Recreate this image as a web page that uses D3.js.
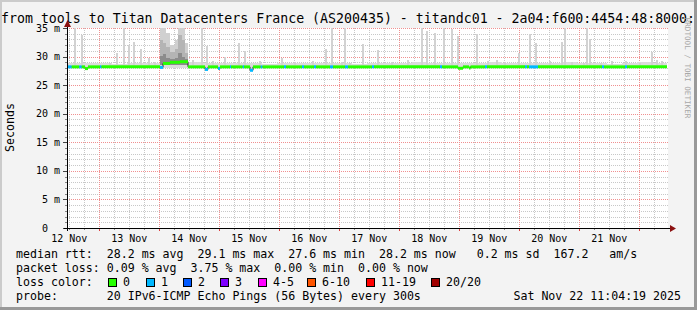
<!DOCTYPE html>
<html><head><meta charset="utf-8">
<script src="https://cdn.jsdelivr.net/npm/d3@7"></script>
<style>
html,body{margin:0;padding:0;background:#f3f3f3}
svg{display:block}
text{font-family:"DejaVu Sans Mono",monospace;white-space:pre}
</style>
</head><body>
<svg id="c" width="697" height="310"></svg>
<script>
// ---------------- data ----------------
const titleText = "from tools to Titan Datacenters France (AS200435) - titandc01 - 2a04:f600:4454:48:8000:";
const graphStart = new Date(2025, 10, 12, 11, 4, 19);
const graphEnd = new Date(2025, 10, 22, 11, 4, 19);
const yTicks = [0, 5, 10, 15, 20, 25, 30, 35];
const yTickLabels = ["0  ", "5 m", "10 m", "15 m", "20 m", "25 m", "30 m", "35 m"];
const dayLabels = ["12 Nov", "13 Nov", "14 Nov", "15 Nov", "16 Nov", "17 Nov", "18 Nov", "19 Nov", "20 Nov", "21 Nov"];

// median rtt (ms) step changes: [hours since start, rtt, lost pings]
const medianHours = [0, 1.9, 4.9, 5.9, 7.2, 8.4, 13.2, 13.8, 37.2, 38.4, 41.2, 45.2, 48.4, 55.2, 56.4, 60.4, 61.2, 65.2, 65.6, 70.3, 70.8, 73.2, 74.4, 77.5, 78.2, 86.8, 87.6, 94, 94.8, 98.8, 99.6, 105.2, 106.4, 111.2, 112.4, 122, 122.8, 149.2, 150, 156.4, 158.4, 160.8, 161.4, 167.2, 168, 183.2, 184, 184.8, 188.4, 214, 214.8, 223.2, 224];
const medianRtt =   [28.2, 28.2, 28.2, 28.2, 27.9, 28.2, 28.2, 28.2, 28.1, 28.8, 29.0, 29.1, 28.2, 27.75, 28.2, 27.9, 28.2, 28.2, 28.2, 28.2, 28.2, 27.6, 28.2, 28.2, 28.2, 28.2, 28.2, 28.2, 28.2, 28.2, 28.2, 28.2, 28.2, 28.2, 28.2, 28.2, 28.2, 28.2, 28.2, 27.95, 28.2, 28.0, 28.2, 28.2, 28.2, 28.2, 28.2, 28.2, 28.2, 28.2, 28.2, 28.2, 28.2];
const medianLoss =  [1, 0, 1, 0, 0, 0, 1, 0, 1, 0, 0, 0, 0, 1, 0, 1, 0, 1, 0, 1, 0, 1, 0, 1, 0, 1, 0, 1, 0, 1, 0, 1, 0, 1, 0, 1, 0, 1, 0, 0, 0, 0, 0, 1, 0, 1, 0, 1, 0, 1, 0, 1, 0];

// background smoke top (ms), every 6 hours
const baseSmokeTop = [28.9, 28.8, 28.9, 28.7, 28.8, 28.9, 28.8, 28.9, 29.0, 28.8, 28.9, 28.8, 28.9, 28.7, 28.8, 28.9, 28.8, 28.9, 28.8, 28.7, 28.9, 28.8, 28.9, 29.0, 28.8, 28.9, 28.8, 28.8, 29.0, 28.9, 28.9, 28.8, 28.9, 29.0, 28.8, 28.9, 28.7, 28.8, 29.0, 28.9];

// individual smoke spikes: hours since start, max rtt (ms)
const spikeHours = [3.2, 6, 17.2, 20, 22.8, 24.8, 26.8, 29.6, 32.8, 35.2, 50.4, 54, 56, 58.4, 63.2, 68.8, 71.2, 77.2, 86, 91.2, 98.4, 103.6, 106, 110, 111.2, 113.2, 118.4, 124.4, 130, 136.4, 142, 144, 147.2, 150.8, 154, 156.4, 164, 168.4, 172, 175.2, 180.8, 185.2, 187.6, 193.2, 198, 199.2, 202, 206.8, 208, 209.2, 213.6, 218, 223.6, 229.2, 234, 236, 238];
const spikeTop =   [35, 33.8, 28.9, 30.6, 35, 32, 32.6, 31.3, 29.7, 29.0, 29.4, 35, 31.9, 29.2, 30.0, 32.3, 30.9, 29.2, 29.8, 29.0, 29.3, 31.3, 35, 29.1, 35, 28.9, 32.2, 31.2, 29.0, 29.4, 35, 34.5, 34.2, 35, 34.8, 33.6, 34, 29.2, 29.4, 29.0, 30.7, 34, 32.3, 29.3, 32.6, 35, 29.1, 28.9, 35, 33, 28.9, 29.2, 29.2, 28.9, 30.8, 29.4, 29.2];

// dense smoke period (13-14 Nov): [start hour, end hour], dark / mid / light tops (ms)
const denseStart = [37.2, 38.4, 39.6, 41.2, 43.2, 44.4, 46.0, 47.2];
const denseEnd =   [38.4, 39.6, 41.2, 43.2, 44.4, 46.0, 47.2, 48.4];
const denseDark =  [30.1, 30.4, 29.8, 29.6, 29.8, 30.7, 30.0, 29.6];
const denseMid =   [32.9, 32.3, 31.7, 30.8, 31.4, 33.8, 32.9, 30.7];
const denseLight = [35, 35, 34.1, 32.0, 32.9, 35, 35, 32.3];

const lossLabels = ["0", "1", "2", "3", "4-5", "6-10", "11-19", "20/20"];
const lossColors = ["#26ff00", "#00b8ff", "#0059ff", "#7e00ff", "#ff00ff", "#ff5500", "#ff0000", "#a10000"];
const rttStats = ["28.2", "29.1", "27.6", "28.2", "0.2", "167.2"];
const lossStats = ["0.09", "3.75", "0.00", "0.00"];
const probeText = "20 IPv6-ICMP Echo Pings (56 Bytes) every 300s";
const stampText = "Sat Nov 22 11:04:19 2025";

// ---------------- drawing ----------------
const W = 697, H = 310;
const L = 67, R = 667, T = 28, B = 228;
const svg = d3.select("#c");
const hToDate = h => new Date(graphStart.getTime() + h * 3600e3);
const x = d3.scaleTime().domain([graphStart, graphEnd]).range([L, R]);
const y = d3.scaleLinear().domain([0, 35]).range([B, T]);
const xh = h => x(hToDate(h));

// frame
svg.append("rect").attr("width", W).attr("height", H).attr("fill", "#f3f3f3");
svg.append("rect").attr("x", 0).attr("y", 0).attr("width", W).attr("height", 2).attr("fill", "#cbcbcb");
svg.append("rect").attr("x", 0).attr("y", 0).attr("width", 2).attr("height", H).attr("fill", "#cbcbcb");
svg.append("rect").attr("x", 0).attr("y", H - 3).attr("width", W).attr("height", 3).attr("fill", "#999");
svg.append("rect").attr("x", W - 3).attr("y", 0).attr("width", 3).attr("height", H).attr("fill", "#999");

// canvas
svg.append("rect").attr("x", L).attr("y", T).attr("width", R - L + 1).attr("height", B - T).attr("fill", "#fff");

// grid
const g = svg.append("g").attr("shape-rendering", "crispEdges");
const minorX = d3.timeHour.every(6).range(graphStart, graphEnd).filter(d => d.getHours() !== 0);
const majorX = d3.timeDay.range(graphStart, graphEnd);
g.selectAll(".mx").data(minorX).join("line")
  .attr("x1", d => Math.round(x(d)) + 0.5).attr("x2", d => Math.round(x(d)) + 0.5)
  .attr("y1", T).attr("y2", B).attr("stroke", "#c8c8c8").attr("stroke-dasharray", "1,1");
const minorY = d3.range(1, 36).filter(v => v % 5 !== 0);
g.selectAll(".my").data(minorY).join("line")
  .attr("x1", L).attr("x2", R + 1).attr("y1", d => Math.round(y(d)) + 0.5).attr("y2", d => Math.round(y(d)) + 0.5)
  .attr("stroke", "#c8c8c8").attr("stroke-dasharray", "1,1");
g.selectAll(".Mx").data(majorX).join("line")
  .attr("x1", d => Math.round(x(d)) + 0.5).attr("x2", d => Math.round(x(d)) + 0.5)
  .attr("y1", T).attr("y2", B).attr("stroke", "#f09090").attr("stroke-dasharray", "1,1");
g.selectAll(".My").data(yTicks.filter(v => v > 0)).join("line")
  .attr("x1", L).attr("x2", R + 1).attr("y1", d => Math.round(y(d)) + 0.5).attr("y2", d => Math.round(y(d)) + 0.5)
  .attr("stroke", "#f09090").attr("stroke-dasharray", "1,1");

// base smoke
const sm = svg.append("g").attr("shape-rendering", "crispEdges");
sm.selectAll(".bs").data(baseSmokeTop).join("rect")
  .attr("x", (d, i) => xh(i * 6)).attr("width", (d, i) => xh((i + 1) * 6) - xh(i * 6))
  .attr("y", d => y(d)).attr("height", d => y(27.95) - y(d)).attr("fill", "#dcdcdc");

// spikes
sm.selectAll(".sp").data(spikeHours).join("rect")
  .attr("x", d => xh(d) - 1).attr("width", 2)
  .attr("y", (d, i) => y(spikeTop[i])).attr("height", (d, i) => y(28.6) - y(spikeTop[i]))
  .attr("fill", "#d2d2d2");

// dense smoke
const layers = [[denseLight, "#d0d0d0"], [denseMid, "#b4b4b4"], [denseDark, "#8c8c8c"]];
layers.forEach(([arr, col]) => {
  sm.selectAll(null).data(denseStart).join("rect")
    .attr("x", d => xh(d)).attr("width", (d, i) => xh(denseEnd[i]) - xh(d))
    .attr("y", (d, i) => y(arr[i])).attr("height", (d, i) => y(28.6) - y(arr[i]))
    .attr("fill", col);
});

// median line
const pts = medianHours.map((h, i) => [h, medianRtt[i], medianLoss[i]]);
const pts2 = pts.concat([[240, medianRtt[medianRtt.length - 1], 0]]);
svg.append("path")
  .attr("d", d3.line().x(d => xh(d[0])).y(d => y(d[1])).curve(d3.curveStepAfter)(pts2))
  .attr("fill", "none").attr("stroke", "#202020").attr("stroke-width", 1);
svg.append("g").selectAll("line").data(pts).join("line")
  .attr("x1", d => xh(d[0])).attr("x2", (d, i) => xh(pts2[i + 1][0]))
  .attr("y1", d => y(d[1])).attr("y2", d => y(d[1]))
  .attr("stroke", d => lossColors[d[2]]).attr("stroke-width", 3);

// axes
const ax = svg.append("g").attr("shape-rendering", "crispEdges");
ax.selectAll(".ytm").data(d3.range(0, 36)).join("line")
  .attr("x1", d => d % 5 === 0 ? L - 4 : L - 2).attr("x2", L)
  .attr("y1", d => Math.round(y(d)) + 0.5).attr("y2", d => Math.round(y(d)) + 0.5)
  .attr("stroke", d => d % 5 === 0 ? "#444" : "#888");
ax.selectAll(".xtm").data(minorX).join("line")
  .attr("x1", d => Math.round(x(d)) + 0.5).attr("x2", d => Math.round(x(d)) + 0.5)
  .attr("y1", B).attr("y2", B + 2).attr("stroke", "#888");
ax.selectAll(".xtM").data(majorX).join("line")
  .attr("x1", d => Math.round(x(d)) + 0.5).attr("x2", d => Math.round(x(d)) + 0.5)
  .attr("y1", B).attr("y2", B + 3).attr("stroke", "#e04040");
ax.append("line").attr("x1", L - 3).attr("x2", R + 3).attr("y1", B + 0.5).attr("y2", B + 0.5).attr("stroke", "#000");
ax.append("line").attr("x1", L + 0.5).attr("x2", L + 0.5).attr("y1", B + 3).attr("y2", T - 2).attr("stroke", "#000");
svg.append("path").attr("d", `M${L - 3},${T - 1}L${L + 0.5},${T - 8}L${L + 4},${T - 1}Z`).attr("fill", "#8b1010");
svg.append("path").attr("d", `M${R + 3},${B - 3}L${R + 9},${B + 0.5}L${R + 3},${B + 4}Z`).attr("fill", "#8b1010");

// y labels
svg.selectAll(".yl").data(yTicks).join("text")
  .attr("x", 60).attr("y", d => y(d) + 3.5).attr("text-anchor", "end")
  .attr("font-size", "10px").attr("fill", "#000").text((d, i) => yTickLabels[i]);
// x labels at noon
svg.selectAll(".xl").data(dayLabels).join("text")
  .attr("x", (d, i) => x(new Date(2025, 10, 12 + i, 12, 0, 0))).attr("y", 241.5)
  .attr("text-anchor", "middle").attr("font-size", "10px").attr("fill", "#000").text(d => d);

// axis title
svg.append("text").attr("transform", "translate(14,127.5) rotate(-90)").attr("text-anchor", "middle")
  .attr("font-size", "11.6px").text("Seconds");

// title
svg.append("text").attr("x", 1).attr("y", 22.5).attr("font-size", "13.25px").text(titleText);

// watermark
svg.append("text").attr("transform", "translate(685,68) rotate(90)").attr("text-anchor", "middle")
  .attr("font-size", "7.6px").attr("fill", "#a8a8a8").text("RRDTOOL / TOBI OETIKER");

// legend
const fs = "11.6px";
const leg = svg.append("g").attr("font-size", fs).attr("fill", "#000");
leg.append("text").attr("x", 16).attr("y", 258)
  .text(`median rtt:  ${rttStats[0]} ms avg  ${rttStats[1]} ms max  ${rttStats[2]} ms min  ${rttStats[3]} ms now   ${rttStats[4]} ms sd  ${rttStats[5]}   am/s`);
leg.append("text").attr("x", 16).attr("y", 272)
  .text(`packet loss: ${lossStats[0]} % avg  ${lossStats[1]} % max  ${lossStats[2]} % min  ${lossStats[3]} % now`);
leg.append("text").attr("x", 16).attr("y", 286).text("loss color:");
const boxX = [108, 146, 183, 220, 258, 307, 366, 431];
leg.selectAll(".lb").data(lossLabels).join("rect")
  .attr("x", (d, i) => boxX[i] + 0.5).attr("y", 278.5).attr("width", 8).attr("height", 8)
  .attr("fill", (d, i) => lossColors[i]).attr("stroke", "#000").attr("shape-rendering", "crispEdges");
leg.selectAll(".lt").data(lossLabels).join("text")
  .attr("x", (d, i) => boxX[i] + 15).attr("y", 286).text(d => d);
leg.append("text").attr("x", 16).attr("y", 300).text("probe:       " + probeText);
leg.append("text").attr("x", 681).attr("y", 300).attr("text-anchor", "end").text(stampText);
</script>
</body></html>
